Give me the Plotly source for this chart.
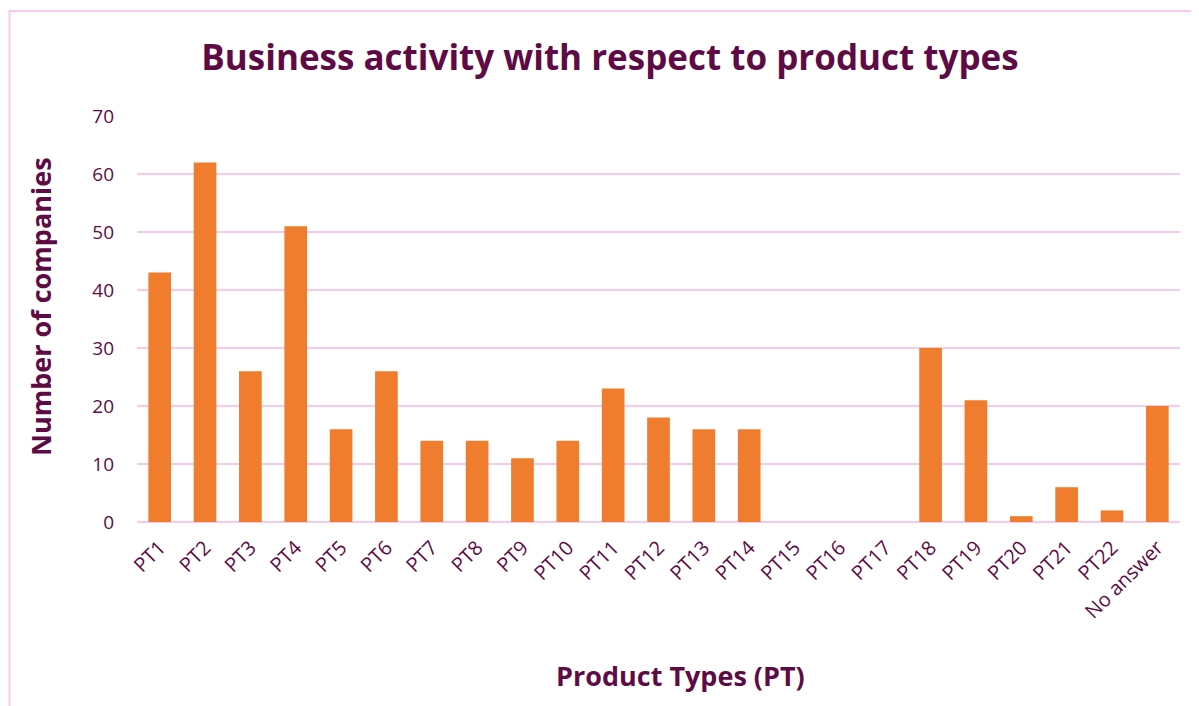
import plotly.graph_objects as go

categories = ["PT1", "PT2", "PT3", "PT4", "PT5", "PT6", "PT7", "PT8", "PT9", "PT10",
              "PT11", "PT12", "PT13", "PT14", "PT15", "PT16", "PT17", "PT18", "PT19",
              "PT20", "PT21", "PT22", "No answer"]
companies = [43, 62, 26, 51, 16, 26, 14, 14, 11, 14,
             23, 18, 16, 16, 0, 0, 0, 30, 21,
             1, 6, 2, 20]
y_ticks = [0, 10, 20, 30, 40, 50, 60, 70]

text_color = "#5E0B45"
grid_color = "#F9C8EE"
bar_color = "#EF7D2D"
font_family = "Open Sans, Lato, sans-serif"

fig = go.Figure()
fig.add_trace(go.Bar(
    x=categories, y=companies,
    marker=dict(color=bar_color, line=dict(width=0)),
    hoverinfo="x+y",
))

# page body has an 8px offset in the browser
OFF = 8
W, H = 1199, 706
ml, mr, mt, mb = 137 - OFF, 19 + OFF, 116 - OFF, 184 + OFF
pw, ph = W - ml - mr, H - mt - mb

def px_to_paper_x(px):
    return (px - OFF - ml) / pw

def px_to_paper_y(py):
    return (H - mb - (py - OFF)) / ph

fig.update_layout(
    width=W, height=H,
    margin=dict(l=ml, r=mr, t=mt, b=mb, autoexpand=False),
    paper_bgcolor="white", plot_bgcolor="white",
    bargap=0.5,
    showlegend=False,
    font=dict(family=font_family, color=text_color, size=18),
    title=dict(
        text="<b>Business activity with respect to product types</b>",
        x=px_to_paper_x(610), xref="paper", xanchor="center",
        y=1 - (58 - OFF) / H, yref="container", yanchor="middle",
        font=dict(size=35, color=text_color, family=font_family),
    ),
    xaxis=dict(
        tickangle=-45, showgrid=False, zeroline=False, showline=False,
        ticks="", ticklabelstandoff=9, tickfont=dict(size=20, color=text_color),
    ),
    yaxis=dict(
        range=[0, 70], tickvals=y_ticks, showgrid=True, gridcolor=grid_color,
        gridwidth=2, zeroline=True, zerolinecolor=grid_color, zerolinewidth=2,
        showline=False, ticks="", ticklabelstandoff=22,
        tickfont=dict(size=19, color=text_color),
    ),
    annotations=[
        dict(text="<b>Product Types (PT)</b>", xref="paper", yref="paper",
             x=px_to_paper_x(680), y=px_to_paper_y(675),
             xanchor="center", yanchor="middle", showarrow=False,
             font=dict(size=27, color=text_color)),
        dict(text="<b>Number of companies</b>", xref="paper", yref="paper",
             x=px_to_paper_x(40), y=px_to_paper_y(307), textangle=-90,
             xanchor="center", yanchor="middle", showarrow=False,
             font=dict(size=27, color=text_color)),
    ],
    shapes=[dict(
        type="rect", xref="paper", yref="paper",
        x0=px_to_paper_x(9.5), x1=px_to_paper_x(1215),
        y0=px_to_paper_y(720), y1=px_to_paper_y(11),
        line=dict(color=grid_color, width=2), fillcolor="rgba(0,0,0,0)",
        layer="below",
    )],
)

fig.write_html("out.html")
